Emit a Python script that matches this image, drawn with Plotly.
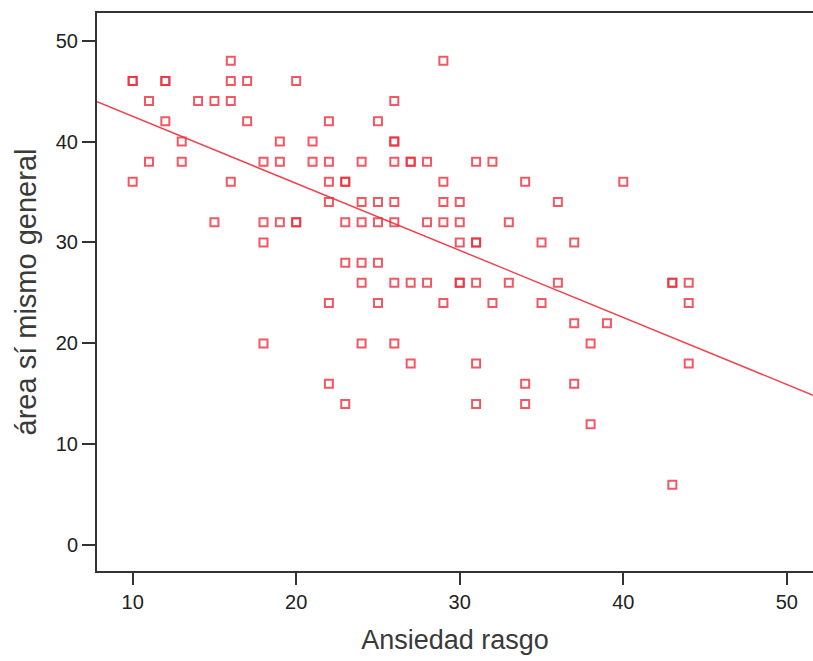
import numpy as np
import plotly.graph_objects as go

# Ansiedad rasgo (x) and área sí mismo general (y)
ansiedad = [10, 10, 12, 12, 16, 16, 17, 20, 29,
            11, 14, 15, 16, 26,
            12, 17, 22, 25,
            13, 19, 21, 26, 26,
            11, 13, 18, 19, 21, 22, 24, 26, 27, 27, 28, 31, 32,
            10, 16, 22, 23, 23, 29, 34, 40,
            22, 24, 25, 26, 29, 30, 36,
            15, 18, 19, 20, 20, 23, 24, 25, 26, 28, 29, 30, 33,
            18, 30, 31, 31, 35, 37,
            23, 24, 25,
            24, 26, 27, 28, 30, 30, 31, 33, 36, 43, 43, 44,
            22, 25, 29, 32, 35, 44,
            37, 39,
            18, 24, 26, 38,
            27, 31, 44,
            22, 34, 37,
            23, 31, 34,
            38,
            43]
area = [46, 46, 46, 46, 48, 46, 46, 46, 48,
        44, 44, 44, 44, 44,
        42, 42, 42, 42,
        40, 40, 40, 40, 40,
        38, 38, 38, 38, 38, 38, 38, 38, 38, 38, 38, 38, 38,
        36, 36, 36, 36, 36, 36, 36, 36,
        34, 34, 34, 34, 34, 34, 34,
        32, 32, 32, 32, 32, 32, 32, 32, 32, 32, 32, 32, 32,
        30, 30, 30, 30, 30, 30,
        28, 28, 28,
        26, 26, 26, 26, 26, 26, 26, 26, 26, 26, 26, 26,
        24, 24, 24, 24, 24, 24,
        22, 22,
        20, 20, 20, 20,
        18, 18, 18,
        16, 16, 16,
        14, 14, 14,
        12,
        6]

x_range = [7.82, 51.6]
y_range = [-2.55, 52.73]
x_ticks = [10, 20, 30, 40, 50]
y_ticks = [0, 10, 20, 30, 40, 50]

# Fit line
fit_intercept = 49.13
fit_slope = -0.664

red = "rgba(236,48,60,0.8)"
axis_col = "#333333"
title_col = "#3a3a3a"

fig = go.Figure()
fig.add_trace(go.Scatter(
    x=ansiedad, y=area, mode="markers",
    marker=dict(symbol="square-open", size=8, color=red,
                line=dict(width=2, color=red)),
    showlegend=False, hoverinfo="x+y"))

fx = np.array(x_range)
fig.add_trace(go.Scatter(
    x=fx, y=fit_intercept + fit_slope * fx, mode="lines",
    line=dict(color="rgba(236,48,60,0.9)", width=1.5),
    showlegend=False, hoverinfo="skip"))

fig.update_layout(
    width=813, height=661,
    margin=dict(l=97, r=0, t=13, b=90),
    paper_bgcolor="white", plot_bgcolor="white",
    font=dict(family="Liberation Sans, Arial, sans-serif", color="#222222"),
    xaxis=dict(range=x_range, tickvals=x_ticks, showgrid=False, zeroline=False,
               showline=True, linecolor=axis_col, linewidth=2, mirror=True,
               ticks="outside", ticklen=12, tickwidth=2, tickcolor=axis_col,
               tickfont=dict(size=20),
               title=dict(text="Ansiedad rasgo", font=dict(size=27, color=title_col),
                          standoff=18)),
    yaxis=dict(range=y_range, tickvals=y_ticks, showgrid=False, zeroline=False,
               showline=True, linecolor=axis_col, linewidth=2,
               ticks="outside", ticklen=13, tickwidth=2, tickcolor=axis_col,
               tickfont=dict(size=20),
               title=dict(text="área sí mismo general", font=dict(size=29, color=title_col),
                          standoff=11)),
)

fig.write_html("out.html")
